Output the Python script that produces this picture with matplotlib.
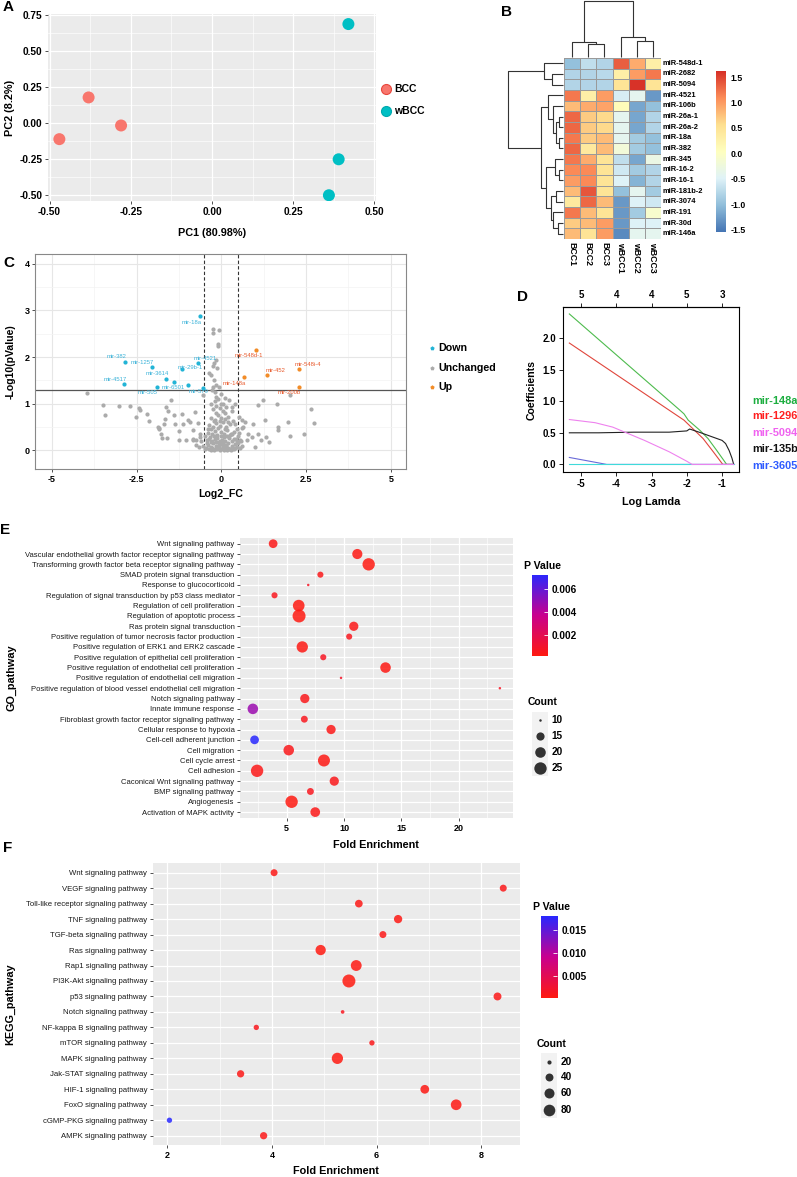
import numpy as np
import matplotlib
matplotlib.use("Agg")
import matplotlib.pyplot as plt
from matplotlib.colors import LinearSegmentedColormap
from matplotlib.patches import Rectangle

plt.rcParams["font.family"] = ["Liberation Sans", "DejaVu Sans"]
plt.rcParams["axes.unicode_minus"] = False

# ── data ────────────────────────────────────────────────────────────────────
# A: PCA
pca_group = ["BCC", "BCC", "BCC", "wBCC", "wBCC", "wBCC"]
pc1 = [-0.47, -0.38, -0.28, 0.42, 0.39, 0.36]
pc2 = [-0.11, 0.18, -0.015, 0.69, -0.25, -0.50]

# B: heatmap (row z-scores)
hm_cols = ["BCC1", "BCC2", "BCC3", "wBCC1", "wBCC2", "wBCC3"]
hm_rows = ["miR-548d-1", "miR-2682", "miR-5094", "miR-4521", "miR-106b",
           "miR-26a-1", "miR-26a-2", "miR-18a", "miR-382", "miR-345",
           "miR-16-2", "miR-16-1", "miR-181b-2", "miR-3074", "miR-191",
           "miR-30d", "miR-146a"]
hm_values = [
    [-1.0, -0.7, -0.8, 1.35, 0.9, 0.3],
    [-0.8, -0.8, -0.75, 0.3, 1.0, 1.2],
    [-0.8, -0.8, -0.8, 0.5, 1.6, 0.5],
    [1.2, 0.3, 1.0, -0.55, -0.4, -1.3],
    [0.8, 0.9, 0.95, 0.1, -1.2, -1.0],
    [1.3, 0.7, 0.6, -0.4, -1.2, -0.8],
    [1.3, 0.7, 0.6, -0.4, -1.2, -0.8],
    [1.2, 0.7, 0.8, -0.4, -0.9, -1.0],
    [1.3, 0.4, 0.8, -0.2, -0.9, -1.0],
    [1.2, 0.9, 0.5, -0.7, -1.2, -0.3],
    [1.1, 1.1, 0.5, -0.6, -0.9, -0.8],
    [1.0, 1.1, 0.5, -0.5, -1.1, -0.8],
    [0.8, 1.4, 0.5, -1.0, -0.4, -0.9],
    [0.4, 1.3, 0.8, -1.3, -0.5, -0.6],
    [1.2, 0.8, 0.5, -1.3, -0.9, -0.1],
    [0.7, 0.8, 1.0, -1.3, -0.5, -0.5],
    [0.8, 0.5, 1.0, -1.4, -0.4, -0.4],
]
# dendrograms: (left, right, merge height)
row_tree = (("miR-548d-1", ("miR-2682", "miR-5094", 35), 58),
            (("miR-4521", ("miR-106b", (("miR-26a-1", "miR-26a-2", 12),
                                        ("miR-18a", "miR-382", 14), 23), 30), 46),
             (("miR-345", ("miR-16-2", "miR-16-1", 13), 25),
              (("miR-181b-2", "miR-3074", 22),
               ("miR-191", ("miR-30d", "miR-146a", 15), 30), 38), 53), 68), 168)
col_tree = (("BCC1", ("BCC2", "BCC3", 39), 47),
            ("wBCC1", ("wBCC2", "wBCC3", 49), 62), 171)

# C: volcano
grey_fc = [-3.97, -3.49, -3.44, -3.01, -2.70, -2.51, -2.43, -2.39, -2.20, -2.13,
           -1.87, -1.83, -1.79, -1.70, -1.65, -1.62, -1.58, -1.50, -1.41, -1.36,
           -1.26, -1.17, -1.12, -0.98, -0.93, -0.83, -0.78, -0.74, -0.68, -0.64,
           -0.53, -1.84, -1.74, -1.60, -1.26, -1.03, -0.84, -0.84, -0.74, -0.64,
           -0.26, -0.25, -0.08, -0.11, -0.10, -0.16, -0.21, -0.26, -0.14, -0.35,
           -0.31, -0.21, -0.16, -0.24, -0.28, -0.16,
           0.22, 0.32, 0.60, 0.65, 0.80, 0.94, 1.08, 1.24, 1.29, 1.42, 1.63, 1.66,
           1.66, 1.98, 2.02, 2.04, 2.44, 2.66, 2.73, 0.89, 1.18, 1.32, 0.99, 0.41,
           0.51, 0.60, 0.70, 0.75, 0.56, 0.32, 1.08, 0.41,
           -0.45, -0.40, -0.35, -0.30, -0.25, -0.20, -0.15, -0.10, -0.05, 0.00,
           0.05, 0.10, 0.15, 0.20, 0.25, 0.30, 0.35, 0.40, 0.45,
           -0.42, -0.33, -0.27, -0.18, -0.08, 0.02, 0.12, 0.22, 0.32, 0.42, 0.50,
           0.55, -0.55, -0.38, -0.28, -0.20, -0.12, -0.02, 0.08, 0.18, 0.28, 0.38,
           0.48, -0.35, -0.25, -0.15, -0.05, 0.05, 0.15, 0.25, 0.35, -0.30, -0.20,
           -0.10, 0.00, 0.10, 0.20, 0.30, -0.25, -0.15, -0.05, 0.05, 0.15, -0.20,
           -0.10, 0.00, -0.30, -0.12, 0.08, 0.18, -0.22, 0.28, -0.32, 0.38, -0.48,
           0.45, -0.06, 0.04, 0.13, -0.17, 0.24,
           -0.48, -0.43, -0.37, -0.32, -0.28, -0.23, -0.17, -0.13, -0.07, -0.03,
           0.03, 0.07, 0.11, 0.16, 0.21, 0.26, 0.31, 0.36, 0.41, 0.47, -0.40,
           -0.30, -0.10, 0.10, 0.20, -0.22, 0.00, -0.05, 0.12, -0.15, 0.05, -0.02,
           -0.18, 0.10, -0.08, 0.58, 0.62, -0.60, -0.65, 0.52]
grey_p = [1.23, 0.98, 0.75, 0.95, 0.95, 0.72, 0.90, 0.86, 0.79, 0.63,
          0.50, 0.45, 0.36, 0.56, 0.68, 0.93, 0.85, 1.07, 0.75, 0.57,
          0.42, 0.77, 0.56, 0.65, 0.61, 0.25, 0.83, 0.23, 0.59, 0.34,
          1.19, 0.47, 0.27, 0.27, 0.22, 0.22, 0.22, 0.43, 0.11, 0.29,
          2.61, 2.51, 2.59, 2.28, 2.24, 1.94, 1.87, 1.80, 1.76, 1.65,
          1.62, 1.51, 1.40, 1.36, 1.29, 1.15,
          1.08, 0.93, 0.65, 0.50, 0.36, 0.57, 0.97, 1.08, 0.66, 0.18, 0.99, 0.50,
          0.43, 0.61, 1.18, 0.30, 0.34, 0.88, 0.58, 0.29, 0.22, 0.29, 0.07, 0.57,
          0.72, 0.47, 0.61, 0.22, 0.22, 0.36, 0.36, 1.00,
          0.05, 0.12, 0.02, 0.08, 0.15, 0.03, 0.10, 0.05, 0.00, 0.02,
          0.07, 0.04, 0.12, 0.06, 0.02, 0.10, 0.05, 0.14, 0.08,
          0.22, 0.28, 0.20, 0.25, 0.18, 0.22, 0.20, 0.26, 0.19, 0.24, 0.15,
          0.05, 0.10, 0.38, 0.35, 0.42, 0.33, 0.40, 0.36, 0.44, 0.34, 0.40,
          0.30, 0.55, 0.50, 0.58, 0.52, 0.60, 0.50, 0.56, 0.62, 0.70, 0.66,
          0.75, 0.70, 0.80, 0.72, 0.85, 0.88, 0.95, 0.90, 1.00, 0.92, 1.05,
          1.10, 1.20, 1.00, 0.02, 0.00, 0.00, 0.00, 0.00, 0.00, 0.02, 0.30,
          0.45, 0.13, 0.15, 0.09, 0.31, 0.03,
          0.02, 0.16, 0.25, 0.18, 0.06, 0.30, 0.17, 0.26, 0.10, 0.20,
          0.13, 0.28, 0.09, 0.30, 0.15, 0.32, 0.02, 0.25, 0.06, 0.20, 0.45,
          0.45, 0.48, 0.45, 0.60, 0.62, 0.30, 0.63, 0.68, 0.80, 0.85, 1.00,
          1.25, 1.12, 1.35, 0.20, 0.10, 0.20, 0.08, 0.38]
down_fc = [-0.62, -2.84, -2.05, -0.70, -1.17, -1.62, -1.41, -2.86, -1.90, -0.99, -0.55]
down_p = [2.87, 1.90, 1.79, 1.88, 1.75, 1.54, 1.47, 1.42, 1.35, 1.41, 1.33]
down_lab = ["mir-18a", "mir-382", "mir-1257", "mir-4521", "mir-29b-1", "mir-3614",
            "", "mir-4517", "mir-505", "mir-6501", "mir-579"]
down_lab_x = [-0.88, -3.08, -2.34, -0.48, -0.93, -1.89, 0, -3.13, -2.19, -1.41, -0.66]
down_lab_y = [2.75, 2.01, 1.88, 1.98, 1.77, 1.65, 0, 1.52, 1.24, 1.35, 1.27]
up_fc = [1.03, 2.28, 1.35, 0.67, 2.28]
up_p = [2.16, 1.75, 1.61, 1.57, 1.35]
up_lab = ["mir-548d-1", "mir-548i-4", "mir-452", "mir-148a", "mir-200b"]
up_lab_x = [0.80, 2.55, 1.61, 0.39, 1.99]
up_lab_y = [2.03, 1.85, 1.71, 1.44, 1.24]

# D: LASSO coefficient paths
lasso_names = ["mir-148a", "mir-1296", "mir-135b", "mir-3605", "", "mir-5094"]
lasso_x = [
    [-5.33, -2.2, -2.08, -1.96, -1.63, -1.40, -1.15, -0.87, -0.67],
    [-5.33, -2.08, -1.54, -1.25, -0.98, -0.67],
    [-5.33, -4.5, -3.5, -2.5, -2.0, -1.92, -1.6, -1.3, -1.0, -0.9, -0.8, -0.72, -0.67],
    [-5.33, -4.27, -0.67],
    [-5.33, -0.67],
    [-5.33, -4.6, -4.1, -3.2, -2.5, -2.0, -1.85, -0.67],
]
lasso_y = [
    [2.38, 0.86, 0.80, 0.70, 0.54, 0.41, 0.22, 0.0, 0.0],
    [1.92, 0.70, 0.41, 0.20, 0.0, 0.0],
    [0.50, 0.50, 0.51, 0.51, 0.53, 0.56, 0.50, 0.44, 0.38, 0.33, 0.22, 0.10, 0.0],
    [0.11, 0.0, 0.0],
    [0.0, 0.0],
    [0.71, 0.66, 0.59, 0.38, 0.20, 0.05, 0.0, 0.0],
]
lasso_top_ticks = [-5, -4, -3, -2, -1]
lasso_top_labels = ["5", "4", "4", "5", "3"]

# E: GO enrichment
go_terms = ["Wnt signaling pathway",
            "Vascular endothelial growth factor receptor signaling pathway",
            "Transforming growth factor beta receptor signaling pathway",
            "SMAD protein signal transduction",
            "Response to glucocorticoid",
            "Regulation of signal transduction by p53 class mediator",
            "Regulation of cell proliferation",
            "Regulation of apoptotic process",
            "Ras protein signal transduction",
            "Positive regulation of tumor necrosis factor production",
            "Positive regulation of ERK1 and ERK2 cascade",
            "Positive regulation of epithelial cell proliferation",
            "Positive regulation of endothelial cell proliferation",
            "Positive regulation of endothelial cell migration",
            "Positive regulation of blood vessel endothelial cell migration",
            "Notch signaling pathway",
            "Innate immune response",
            "Fibroblast growth factor receptor signaling pathway",
            "Cellular response to hypoxia",
            "Cell-cell adherent junction",
            "Cell migration",
            "Cell cycle arrest",
            "Cell adhesion",
            "Caconical Wnt signaling pathway",
            "BMP signaling pathway",
            "Angiogenesis",
            "Activation of MAPK activity"]
go_fe = [3.82, 11.16, 12.15, 7.94, 6.88, 3.94, 6.05, 6.08, 10.85, 10.45, 6.36,
         8.19, 13.62, 9.74, 23.59, 6.58, 2.05, 6.54, 8.87, 2.20, 5.18, 8.25,
         2.42, 9.15, 7.07, 5.43, 7.49]
go_count = [16, 19, 25, 12, 10, 12, 23, 27, 17, 12, 22, 12, 20, 10, 10, 17,
            20, 13, 17, 16, 20, 24, 25, 17, 13, 25, 18]
go_p = [0.0004, 0.0003, 0.0002, 0.0005, 0.0008, 0.0006, 0.0002, 0.0002, 0.0004,
        0.0006, 0.0003, 0.0007, 0.0003, 0.0009, 0.0008, 0.0005, 0.0047, 0.0006,
        0.0004, 0.0072, 0.0005, 0.0003, 0.0004, 0.0005, 0.0006, 0.0002, 0.0004]

# F: KEGG enrichment
kegg_terms = ["Wnt signaling pathway", "VEGF signaling pathway",
              "Toll-like receptor signaling pathway", "TNF signaling pathway",
              "TGF-beta signaling pathway", "Ras signaling pathway",
              "Rap1 signaling pathway", "PI3K-Akt signaling pathway",
              "p53 signaling pathway", "Notch signaling pathway",
              "NF-kappa B signaling pathway", "mTOR signaling pathway",
              "MAPK signaling pathway", "Jak-STAT signaling pathway",
              "HIF-1 signaling pathway", "FoxO signaling pathway",
              "cGMP-PKG signaling pathway", "AMPK signaling pathway"]
kegg_fe = [4.04, 8.42, 5.66, 6.41, 6.12, 4.93, 5.61, 5.47, 8.31, 5.35, 3.70,
           5.91, 5.25, 3.40, 6.92, 7.52, 2.04, 3.84]
kegg_count = [33, 33, 38, 43, 33, 63, 70, 100, 40, 19, 24, 24, 75, 35, 47, 68, 24, 35]
kegg_p = [0.0008, 0.0010, 0.0007, 0.0006, 0.0009, 0.0004, 0.0005, 0.0003, 0.0009,
          0.0015, 0.0012, 0.0011, 0.0004, 0.0008, 0.0006, 0.0005, 0.0180, 0.0009]

# ── layout helpers ──────────────────────────────────────────────────────────
W, H = 797, 1177
fig = plt.figure(figsize=(W / 100, H / 100), dpi=100)


def px_axes(x0, y0, x1, y1):
    return fig.add_axes([x0 / W, 1 - y1 / H, (x1 - x0) / W, (y1 - y0) / H])


def ftext(x, y, s, **kw):
    fig.text(x / W, 1 - y / H, s, **kw)


def ptsize(d_px):
    return (d_px * 0.72) ** 2


def gg_axes(ax):
    ax.set_facecolor("#EBEBEB")
    for s in ax.spines.values():
        s.set_visible(False)
    ax.grid(True, which="major", color="white", lw=0.9)
    ax.grid(True, which="minor", color="white", lw=0.45)
    ax.set_axisbelow(True)
    ax.tick_params(which="major", length=2.5, width=0.6, color="#333333", pad=1.5)
    ax.tick_params(which="minor", length=0)


BOLD = dict(fontweight="bold", color="black")

# ── A: PCA ──────────────────────────────────────────────────────────────────
grp_colors = {"BCC": "#F8766D", "wBCC": "#00BFC4"}
axA = px_axes(48, 14, 376, 201)
gg_axes(axA)
axA.scatter(pc1, pc2, c=[grp_colors[g] for g in pca_group], s=ptsize(12), lw=0, zorder=3)
axA.set_xlim(-0.505, 0.505)
axA.set_ylim(-0.54, 0.76)
axA.set_xticks([-0.5, -0.25, 0, 0.25, 0.5])
axA.set_xticks([-0.375, -0.125, 0.125, 0.375], minor=True)
axA.set_yticks([-0.5, -0.25, 0, 0.25, 0.5, 0.75])
axA.set_yticks([-0.375, -0.125, 0.125, 0.375, 0.625], minor=True)
axA.set_xticklabels([f"{v:.2f}" for v in axA.get_xticks()], fontsize=7.3, **BOLD)
axA.set_yticklabels([f"{v:.2f}" for v in axA.get_yticks()], fontsize=7.3, **BOLD)
axA.set_xlabel("PC1 (80.98%)", fontsize=7.8, labelpad=8, **BOLD)
axA.set_ylabel("PC2 (8.2%)", fontsize=7.8, labelpad=3, **BOLD)

# ── B: heatmap ──────────────────────────────────────────────────────────────
hm_cmap = LinearSegmentedColormap.from_list(
    "rdylbu", ["#4575B4", "#91BFDB", "#E0F3F8", "#FFFFBF", "#FEE090", "#FC8D59", "#D73027"])
hm_vmin, hm_vmax = -1.55, 1.62
axB = px_axes(564, 58, 661, 239)
axB.pcolormesh(np.array(hm_values), cmap=hm_cmap, vmin=hm_vmin, vmax=hm_vmax,
               edgecolors="#9A9A9A", linewidth=0.6)
axB.set_xlim(0, len(hm_cols))
axB.set_ylim(len(hm_rows), 0)
axB.axis("off")
for i, r in enumerate(hm_rows):
    axB.text(6.12, i + 0.5, r, ha="left", va="center", fontsize=5.4, **BOLD)
for j, c in enumerate(hm_cols):
    axB.text(j + 0.5, 17.25, c, ha="center", va="top", rotation=-90, fontsize=6.3, **BOLD)


def draw_tree(ax, node, pos, orient):
    if isinstance(node, str):
        return pos[node], 0.0
    left, right, h = node
    cl, hl = draw_tree(ax, left, pos, orient)
    cr, hr = draw_tree(ax, right, pos, orient)
    hs, cs = [hl, h, h, hr], [cl, cl, cr, cr]
    if orient == "row":
        ax.plot(hs, cs, color="#333333", lw=0.8, solid_capstyle="butt", clip_on=False)
    else:
        ax.plot(cs, hs, color="#333333", lw=0.8, solid_capstyle="butt", clip_on=False)
    return (cl + cr) / 2, h


axRD = px_axes(508, 58, 564, 239)
draw_tree(axRD, row_tree, {r: i + 0.5 for i, r in enumerate(hm_rows)}, "row")
axRD.set_xlim(168, -2)
axRD.set_ylim(len(hm_rows), 0)
axRD.axis("off")

axCD = px_axes(564, 1, 661, 58)
draw_tree(axCD, col_tree, {c: j + 0.5 for j, c in enumerate(hm_cols)}, "col")
axCD.set_xlim(0, len(hm_cols))
axCD.set_ylim(-2, 171)
axCD.axis("off")

axBL = px_axes(716, 71, 726, 232)
axBL.imshow(np.linspace(hm_vmin, hm_vmax, 256)[:, None], aspect="auto", origin="lower",
            extent=[0, 1, hm_vmin, hm_vmax], cmap=hm_cmap)
axBL.set_xticks([])
axBL.yaxis.tick_right()
axBL.set_yticks([-1.5, -1.0, -0.5, 0.0, 0.5, 1.0, 1.5])
axBL.set_yticklabels([f"{v:.1f}" for v in axBL.get_yticks()], fontsize=6.3, **BOLD)
axBL.tick_params(length=0, pad=3)
for s in axBL.spines.values():
    s.set_visible(False)

# ── C: volcano ──────────────────────────────────────────────────────────────
c_down, c_up, c_grey = "#22B4D6", "#F28C28", "#ABABAB"
axC = px_axes(35, 254, 406, 469)
for s in axC.spines.values():
    s.set_color("#888888")
    s.set_linewidth(0.8)
axC.grid(True, which="major", color="#E6E6E6", lw=0.8)
axC.grid(True, which="minor", color="#F3F3F3", lw=0.5)
axC.set_axisbelow(True)
axC.scatter(grey_fc, grey_p, s=ptsize(4.2), color=c_grey, lw=0, zorder=2)
axC.scatter(down_fc, down_p, s=ptsize(4.2), color=c_down, lw=0, zorder=3)
axC.scatter(up_fc, up_p, s=ptsize(4.2), color=c_up, lw=0, zorder=3)
axC.axhline(1.301, color="#555555", lw=0.9, zorder=1.5)
for v in (-0.5, 0.5):
    axC.axvline(v, color="#333333", lw=0.8, ls=(0, (3, 2)), zorder=1.5)
for lx, ly, lab in zip(down_lab_x, down_lab_y, down_lab):
    if lab:
        axC.text(lx, ly, lab, ha="center", va="center", fontsize=4.2, color="#3BB3D9", zorder=4)
for lx, ly, lab in zip(up_lab_x, up_lab_y, up_lab):
    axC.text(lx, ly, lab, ha="center", va="center", fontsize=4.2, color="#E8582A", zorder=4)
axC.set_xlim(-5.5, 5.45)
axC.set_ylim(-0.4, 4.21)
axC.set_xticks([-5, -2.5, 0, 2.5, 5])
axC.set_xticks([-3.75, -1.25, 1.25, 3.75], minor=True)
axC.set_yticks([0, 1, 2, 3, 4])
axC.set_yticks([0.5, 1.5, 2.5, 3.5], minor=True)
axC.set_xticklabels(["-5", "-2.5", "0", "2.5", "5"], fontsize=6.5, **BOLD)
axC.set_yticklabels(["0", "1", "2", "3", "4"], fontsize=6.5, **BOLD)
axC.tick_params(which="major", length=2.5, width=0.6, color="#333333", pad=1.5)
axC.tick_params(which="minor", length=0)
axC.set_xlabel("Log2_FC", fontsize=7.6, labelpad=4, **BOLD)
axC.set_ylabel("-Log10(pValue)", fontsize=7.6, labelpad=6, **BOLD)

# ── D: LASSO paths ──────────────────────────────────────────────────────────
lasso_line_colors = ["#4DBB4D", "#E0463C", "#222222", "#6A6AD8", "#40DADA", "#EE82EE"]
lasso_text_colors = ["#1DAE40", "#FF1F1F", "#F062F0", "#111111", "#2E5BFF"]
axD = px_axes(563, 307, 739, 472)
for xs, ys, col in zip(lasso_x, lasso_y, lasso_line_colors):
    axD.plot(xs, ys, color=col, lw=0.8)
axD.set_xlim(-5.51, -0.52)
axD.set_ylim(-0.12, 2.49)
axD.set_xticks([-5, -4, -3, -2, -1])
axD.set_xticklabels(["-5", "-4", "-3", "-2", "-1"], fontsize=7, **BOLD)
axD.set_yticks([0, 0.5, 1.0, 1.5, 2.0])
axD.set_yticklabels(["0.0", "0.5", "1.0", "1.5", "2.0"], fontsize=7, **BOLD)
axD.tick_params(length=3, width=0.6, pad=2)
for s in axD.spines.values():
    s.set_linewidth(0.8)
topD = axD.secondary_xaxis("top")
topD.set_xticks(lasso_top_ticks)
topD.set_xticklabels(lasso_top_labels, fontsize=7, **BOLD)
topD.tick_params(length=3, width=0.6, pad=2)
axD.set_xlabel("Log Lamda", fontsize=7.8, labelpad=6, **BOLD)
axD.set_ylabel("Coefficients", fontsize=7.6, labelpad=4, **BOLD)
d_label_y = [400.7, 415.7, 432.7, 449, 466]
d_label_txt = ["mir-148a", "mir-1296", "mir-5094", "mir-135b", "mir-3605"]
for yy, txt, col in zip(d_label_y, d_label_txt, lasso_text_colors):
    ftext(752, yy, txt, ha="left", va="center", fontsize=7.9, fontweight="bold", color=col)

# ── E / F: enrichment bubbles ───────────────────────────────────────────────
p_cmap = LinearSegmentedColormap.from_list("pv", ["#FF1A10", "#C9008F", "#2828FF"])


def go_dia(c):
    return 2.5 + 10.5 * np.sqrt(max(c - 10, 0) / 17)


def kegg_dia(c):
    return 2.5 + 10.5 * np.sqrt(max(c - 18, 0) / 82)


def bubble(ax, terms, fe, counts, pvals, dia, vmin, vmax, xlim, xt, xminor, ysize):
    gg_axes(ax)
    ypos = np.arange(len(terms))[::-1]
    ax.scatter(fe, ypos, s=[ptsize(dia(c)) for c in counts], c=pvals, cmap=p_cmap,
               vmin=vmin, vmax=vmax, alpha=0.85, lw=0, zorder=3)
    ax.set_xlim(*xlim)
    ax.set_ylim(-0.6, len(terms) - 0.4)
    ax.set_yticks(ypos)
    ax.set_yticklabels(terms, fontsize=ysize, color="#1A1A1A")
    ax.set_xticks(xt)
    ax.set_xticks(xminor, minor=True)
    ax.set_xticklabels([str(v) for v in xt], fontsize=6.5, **BOLD)
    ax.set_xlabel("Fold Enrichment", fontsize=7.8, labelpad=5, **BOLD)


def pbar(x0, y0, x1, y1, vmin, vmax, ticks, labels):
    ax = px_axes(x0, y0, x1, y1)
    ax.imshow(np.linspace(vmin, vmax, 256)[:, None], aspect="auto", origin="lower",
              extent=[0, 1, vmin, vmax], cmap=p_cmap)
    ax.set_xticks([])
    ax.yaxis.tick_right()
    ax.set_yticks(ticks)
    ax.set_yticklabels(labels, fontsize=7.2, **BOLD)
    ax.tick_params(direction="in", length=3, color="white", width=0.6, pad=3)
    for s in ax.spines.values():
        s.set_visible(False)


axE = px_axes(240, 537.5, 512.6, 818.3)
bubble(axE, go_terms, go_fe, go_count, go_p, go_dia, 0.00017, 0.00724,
       (0.93, 24.7), [5, 10, 15, 20], [2.5, 7.5, 12.5, 17.5, 22.5], 5.5)
axE.set_ylabel("GO_pathway", fontsize=7.8, labelpad=6, **BOLD)
pbar(531.8, 574.7, 547.8, 656, 0.00017, 0.00724,
     [0.002, 0.004, 0.006], ["0.002", "0.004", "0.006"])

axF = px_axes(152.7, 863.4, 520, 1145)
bubble(axF, kegg_terms, kegg_fe, kegg_count, kegg_p, kegg_dia, 0.00028, 0.018,
       (1.72, 8.74), [2, 4, 6, 8], [3, 5, 7], 5.6)
axF.set_ylabel("KEGG_pathway", fontsize=7.8, labelpad=8, **BOLD)
pbar(541, 916, 557.3, 997.7, 0.00028, 0.018,
     [0.005, 0.010, 0.015], ["0.005", "0.010", "0.015"])

# ── overlay: legends and panel letters ──────────────────────────────────────
ov = fig.add_axes([0, 0, 1, 1])
ov.set_xlim(0, W)
ov.set_ylim(H, 0)
ov.axis("off")
ov.patch.set_alpha(0)

# A legend
for yy, g, ec in [(89, "BCC", "#E8473D"), (110.7, "wBCC", "#00A9AE")]:
    ov.scatter([385.7], [yy], s=ptsize(10), color=grp_colors[g], edgecolor=ec, lw=0.8)
    ov.text(394, yy, g, ha="left", va="center", fontsize=7.5, **BOLD)

# C legend
for yy, lab, col in [(348.3, "Down", c_down), (368, "Unchanged", c_grey), (386.7, "Up", c_up)]:
    ov.scatter([431.7], [yy], s=ptsize(4.5), marker="p", color=col, lw=0)
    ov.text(438, yy, lab, ha="left", va="center", fontsize=7.7, **BOLD)

# E legends
ov.text(523.6, 566, "P Value", ha="left", va="center", fontsize=7.6, **BOLD)
ov.text(527.5, 702, "Count", ha="left", va="center", fontsize=7.5, **BOLD)
ov.add_patch(Rectangle((532, 712), 16, 64, color="#F2F2F2", lw=0))
for yy, c in zip([720, 736, 752, 768], [10, 15, 20, 25]):
    ov.scatter([540], [yy], s=ptsize(go_dia(c)), color="#333333", lw=0)
    ov.text(551.7, yy, str(c), ha="left", va="center", fontsize=7.2, **BOLD)

# F legends
ov.text(532.7, 907.3, "P Value", ha="left", va="center", fontsize=7.6, **BOLD)
ov.text(536.7, 1044, "Count", ha="left", va="center", fontsize=7.5, **BOLD)
ov.add_patch(Rectangle((541, 1053), 16, 65, color="#F2F2F2", lw=0))
for yy, c in zip([1061.7, 1077.3, 1093.3, 1110], [20, 40, 60, 80]):
    ov.scatter([549], [yy], s=ptsize(kegg_dia(c)), color="#333333", lw=0)
    ov.text(560.7, yy, str(c), ha="left", va="center", fontsize=7.2, **BOLD)

# panel letters
for x, y, letter in [(8, 7, "A"), (506.7, 12, "B"), (9, 263, "C"), (523, 297, "D"),
                     (5, 530, "E"), (8, 848, "F")]:
    ov.text(x, y, letter, ha="center", va="center", fontsize=11, **BOLD)

fig.savefig("out.png", dpi=100)
